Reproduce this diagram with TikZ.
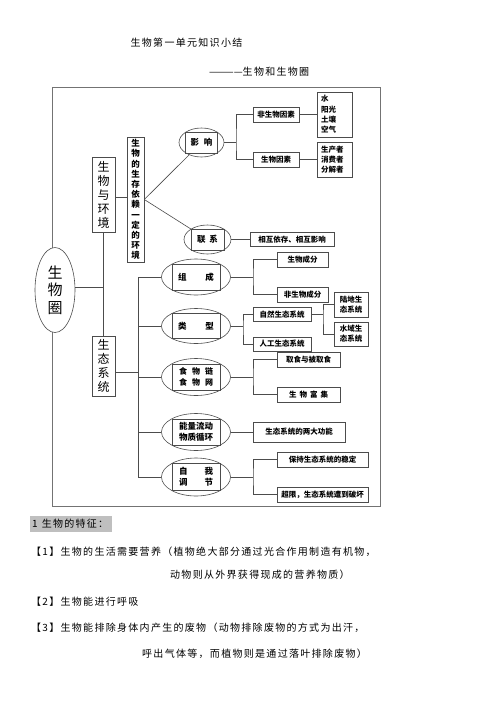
\documentclass[tikz,border=0pt]{standalone}
\usepackage{fontspec}
\usetikzlibrary{shapes.geometric}
\newfontfamily\cjkd{Noto Sans CJK SC}
\newfontfamily\cjkt[LetterSpace=13]{Noto Sans CJK SC}
\begin{document}
\begin{tikzpicture}[x=1pt,y=-1pt,
  ln/.style={draw=black!70, line width=0.6pt},
  bx/.style={draw=black!70, line width=0.6pt, fill=white, inner sep=0pt, font=\cjkd\bfseries\fontsize{7.5}{10.3}\selectfont},
  el/.style={ellipse, draw=black!70, line width=0.6pt, fill=white, inner sep=0pt},
  ibx/.style={draw=black!70, line width=0.6pt, inner sep=0pt, align=center, font=\cjkd\bfseries\fontsize{8.5}{10.5}\selectfont},
  txt/.style={anchor=west, inner sep=0pt, font=\cjkt\fontsize{10}{12}\selectfont}]
\useasboundingbox (0,0) rectangle (496,702);
\fill[white] (0,0) rectangle (496,702);

% titles
\node[font=\cjkt\fontsize{10}{12}\selectfont] (title) at (186.5,43) {生物第一单元知识小结};
\node[anchor=west, inner sep=0pt, font=\cjkt\fontsize{10}{12}\selectfont] (sub) at (209,72) {{\addfontfeature{LetterSpace=0}————}生物和生物圈};

% frame
\node[draw=black!55, line width=0.8pt, minimum width=328pt, minimum height=419pt, inner sep=0pt] (frame) at (216,296.5) {};

% left column
\node[el, minimum width=40pt, minimum height=85pt, align=center, font=\cjkd\fontsize{15}{17.5}\selectfont] (sq) at (55,290) {生\\物\\圈};
\node[bx, minimum width=23pt, minimum height=75pt, align=center, font=\cjkd\fontsize{12}{14}\selectfont] (hj) at (103.5,194.5) {生\\物\\与\\环\\境};
\node[bx, minimum width=23pt, minimum height=60pt, align=center, font=\cjkd\fontsize{12}{14}\selectfont] (st) at (103.5,366) {生\\态\\系\\统};
\node[bx, minimum width=17pt, minimum height=125pt, align=center, font=\cjkd\bfseries\fontsize{8.5}{10.2}\selectfont] (tall) at (135.5,199.5) {生\\物\\的\\生\\存\\依\\赖\\一\\定\\的\\环\\境};

\coordinate (j0) at (103.5,287);
\draw[ln] (hj.south) -- (st.north);
\draw[ln] (sq.east |- j0) -- (j0);
\coordinate (j1) at (115,197);
\draw[ln] (j1) -- (j1 -| tall.west);

% influence / relation
\node[el, minimum width=45pt, minimum height=29pt] (yx) at (201.5,142.5) {};
\node[ibx, minimum width=31.5pt, minimum height=20.7pt] (yxt) at (yx) {影\hspace{5pt}响};
\node[el, minimum width=47pt, minimum height=29pt] (lx) at (207.5,239.5) {};
\node[ibx, minimum width=33pt, minimum height=20.7pt] (lxt) at (lx) {联\hspace{4pt}系};
\draw[ln] (tall.east) -- (yx);
\draw[ln] (tall.east) -- (lx);

\node[bx, minimum width=46pt, minimum height=15pt] (fsw) at (276,114.5) {非生物因素};
\node[bx, minimum width=46pt, minimum height=15pt] (swy) at (276,159.5) {生物因素};
\node[bx, minimum width=35pt, minimum height=45pt, align=left, text width=27pt] (envf) at (334.5,114.5) {水\\阳光\\土壤\\空气};
\node[bx, minimum width=35pt, minimum height=35pt, align=left, text width=27pt] (cons) at (334.5,159.5) {生产者\\消费者\\分解者};
\coordinate (j2) at (236,142.5);
\draw[ln] (yx.east) -- (j2);
\draw[ln] (fsw.west) -| (j2) |- (swy.west);
\draw[ln] (fsw) -- (envf);
\draw[ln] (swy) -- (cons);

\node[bx, minimum width=84pt, minimum height=14pt] (xh) at (292,239.5) {相互依存、相互影响};
\draw[ln] (lx) -- (xh);

% ecosystem ellipses
\node[el, minimum width=69pt, minimum height=36pt] (zc) at (196,277) {};
\node[ibx, minimum width=48.3pt, minimum height=25.7pt] (zct) at (zc) {组\hspace{19pt}成};
\node[el, minimum width=69pt, minimum height=35pt] (lxg) at (196,326) {};
\node[ibx, minimum width=48.3pt, minimum height=25pt] (lxgt) at (lxg) {类\hspace{19pt}型};
\node[el, minimum width=69pt, minimum height=37pt] (swl) at (196,377) {};
\node[ibx, minimum width=48.3pt, minimum height=26.4pt, font=\cjkd\bfseries\fontsize{8}{11}\selectfont] (swlt) at (swl) {食\hspace{5pt}物\hspace{5pt}链\\食\hspace{5pt}物\hspace{5pt}网};
\node[el, minimum width=69pt, minimum height=37pt] (nl) at (196,432) {};
\node[ibx, minimum width=48.3pt, minimum height=26.4pt] (nlt) at (nl) {能量流动\\物质循环};
\node[el, minimum width=69pt, minimum height=38pt] (zw) at (196,477) {};
\node[ibx, minimum width=48.3pt, minimum height=27pt] (zwt) at (zw) {自\hspace{17pt}我\\调\hspace{17pt}节};

\coordinate (b1) at (138,277);
\coordinate (b2) at (138,477);
\draw[ln] (b1) -- (b2);
\coordinate (s1) at (115,372);
\draw[ln] (s1) -- (s1 -| b1);
\foreach \e in {zc,lxg,swl,nl,zw} {\draw[ln] (\e.west) -- (\e.west -| b1);}

% right boxes
\node[bx, minimum width=51pt, minimum height=15pt] (swcf) at (302.5,259.5) {生物成分};
\node[bx, minimum width=51pt, minimum height=15pt] (fswcf) at (302.5,294.5) {非生物成分};
\coordinate (k1) at (253,277);
\draw[ln] (zc.east) -- (k1);
\draw[ln] (swcf.west) -| (k1) |- (fswcf.west);

\node[bx, minimum width=58pt, minimum height=13.5pt] (zr) at (282,314.5) {自然生态系统};
\node[bx, minimum width=58pt, minimum height=14pt] (rg) at (282,344) {人工生态系统};
\coordinate (k2) at (243,326);
\draw[ln] (lxg.east) -- (k2);
\draw[ln] (zr.west) -| (k2) |- (rg.west);

\node[bx, minimum width=34pt, minimum height=25pt, align=center] (ld) at (351,304.5) {陆地生\\态系统};
\node[bx, minimum width=34pt, minimum height=24pt, align=center] (sy) at (351,334) {水域生\\态系统};
\coordinate (k3) at (323,314.5);
\draw[ln] (zr.east) -- (k3);
\draw[ln] (ld.west) -| (k3) |- (sy.west);

\node[bx, minimum width=63pt, minimum height=15pt] (qs) at (308.5,359.5) {取食与被取食};
\node[bx, minimum width=63pt, minimum height=15pt] (fj) at (308.5,394.5) {生\hspace{3pt}物\hspace{3pt}富\hspace{3pt}集};
\coordinate (k4) at (253,377);
\draw[ln] (swl.east) -- (k4);
\draw[ln] (qs.west) -| (k4) |- (fj.west);

\node[bx, minimum width=92pt, minimum height=20pt] (gn) at (299,432) {生态系统的两大功能};
\draw[ln] (nl) -- (gn);

\node[bx, minimum width=91pt, minimum height=15pt] (bc) at (322.5,459.5) {保持生态系统的稳定};
\node[bx, minimum width=91pt, minimum height=15pt] (cx) at (322.5,494.5) {超限，生态系统遭到破坏};
\coordinate (k5) at (253,477);
\draw[ln] (zw.east) -- (k5);
\draw[ln] (bc.west) -| (k5) |- (cx.west);

% text below
\node[anchor=west, fill=black!25, inner sep=2pt, minimum height=16pt, text width=78pt, font=\cjkt\fontsize{10}{12}\selectfont] (h1) at (30,524) {1\hspace{4pt}生物的特征：};
\node[txt] (p1) at (31,552) {【1】生物的生活需要营养（植物绝大部分通过光合作用制造有机物，};
\node[txt] (p2) at (170,575) {动物则从外界获得现成的营养物质）};
\node[txt] (p3) at (31,602) {【2】生物能进行呼吸};
\node[txt] (p4) at (31,628) {【3】生物能排除身体内产生的废物（动物排除废物的方式为出汗，};
\node[txt] (p5) at (142,654) {呼出气体等，而植物则是通过落叶排除废物）};
\end{tikzpicture}
\end{document}
